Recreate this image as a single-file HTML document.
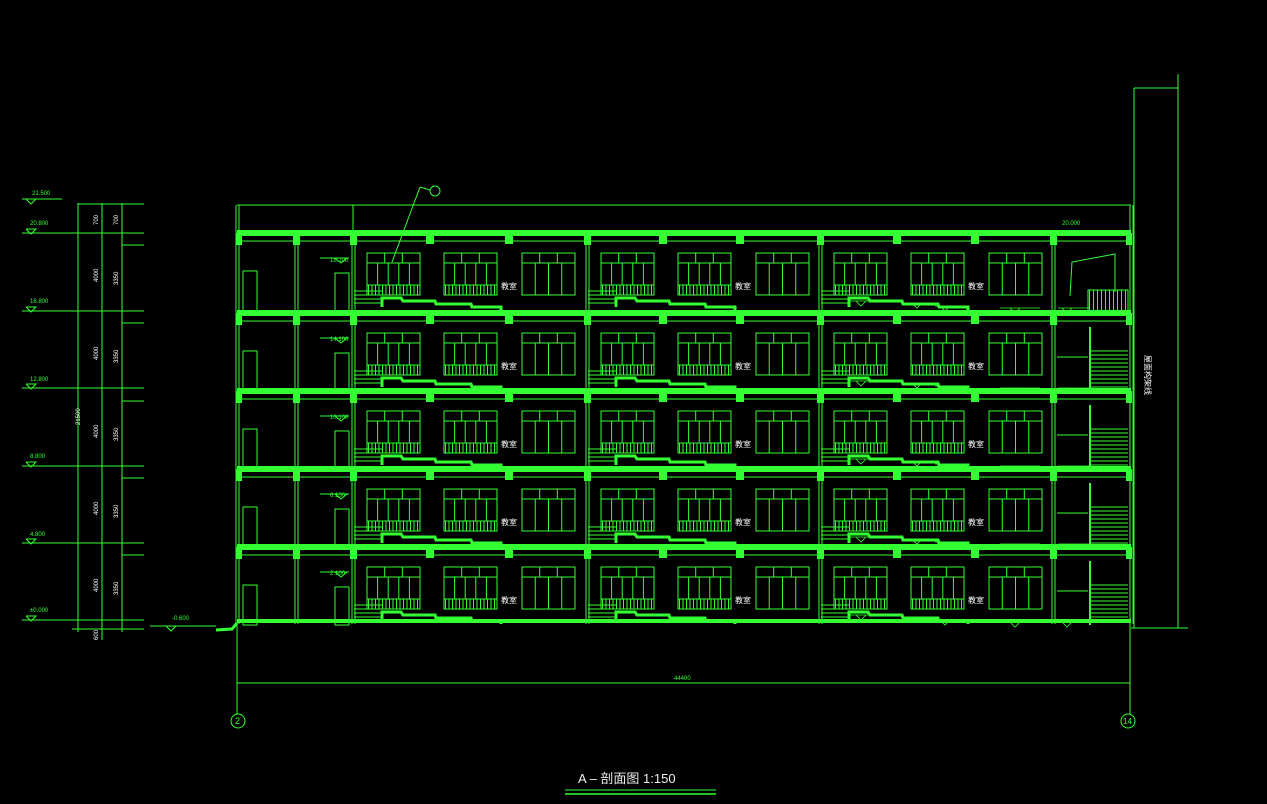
<!DOCTYPE html>
<html><head><meta charset="utf-8"><style>
html,body{margin:0;padding:0;background:#000;width:1267px;height:804px;overflow:hidden}
svg{display:block}
text{font-family:"Liberation Sans","Noto Sans CJK SC",sans-serif}
</style></head><body>
<svg width="1267" height="804" viewBox="0 0 1267 804" xmlns="http://www.w3.org/2000/svg">
<defs>
<g id="wa" stroke="#33ff33" fill="none">
<rect x="0" y="0" width="53" height="42"/>
<line x1="0" y1="10" x2="53" y2="10"/>
<line x1="17.7" y1="0" x2="17.7" y2="10"/><line x1="35.3" y1="0" x2="35.3" y2="10"/>
<line x1="10.6" y1="10" x2="10.6" y2="32"/><line x1="21.2" y1="10" x2="21.2" y2="32"/><line x1="31.8" y1="10" x2="31.8" y2="32"/><line x1="42.4" y1="10" x2="42.4" y2="32"/>
<line x1="0" y1="32" x2="53" y2="32"/>
<line x1="1" y1="37" x2="53" y2="37" stroke-width="10" stroke-dasharray="1 2.5"/>
</g>
<g id="wb" stroke="#33ff33" fill="none">
<rect x="0" y="0" width="53" height="42"/>
<line x1="0" y1="10" x2="53" y2="10"/>
<line x1="17.7" y1="0" x2="17.7" y2="10"/><line x1="35.3" y1="0" x2="35.3" y2="10"/>
<line x1="13.25" y1="10" x2="13.25" y2="42"/><line x1="26.5" y1="10" x2="26.5" y2="42"/><line x1="39.75" y1="10" x2="39.75" y2="42"/>
</g>
<g id="bay">
<use href="#wa" x="14" y="20"/><use href="#wa" x="91" y="20"/><use href="#wb" x="169" y="20"/>
<text x="148" y="56" fill="#fff" font-size="8">教室</text>
<g stroke="#33ff33" fill="none">
<line x1="1" y1="58" x2="29" y2="58"/><line x1="1" y1="62" x2="29" y2="62"/><line x1="1" y1="66" x2="29" y2="66"/><line x1="1" y1="70" x2="29" y2="70"/>
<polyline stroke-width="3" points="29,74 29,65 48,65 50,68 82,68 83,71 118,71 119,74 148,74 148,77"/>
</g>
</g>
<g id="fl">
<rect x="237" y="-3" width="894" height="6" fill="#33ff33"/>
<line x1="237" y1="8" x2="1131" y2="8" stroke="#33ff33"/>
<g fill="#33ff33">
<rect x="426" y="0" width="8" height="11"/><rect x="505" y="0" width="8" height="11"/><rect x="659" y="0" width="8" height="11"/>
<rect x="736" y="0" width="8" height="11"/><rect x="893" y="0" width="8" height="11"/><rect x="971" y="0" width="8" height="11"/>
<rect x="236" y="0" width="6" height="12"/><rect x="293" y="0" width="7" height="12"/><rect x="350" y="0" width="7" height="12"/>
<rect x="584" y="0" width="7" height="12"/><rect x="817" y="0" width="7" height="12"/><rect x="1050" y="0" width="7" height="12"/><rect x="1126" y="0" width="6" height="12"/>
</g>
<g stroke="#33ff33" fill="none">
<rect x="243" y="38" width="14" height="40"/><rect x="335" y="40" width="14" height="38"/>
<line x1="320" y1="25" x2="349" y2="25"/><polyline points="335,25 341,30 347,25"/>
</g>
<use href="#bay" x="353"/><use href="#bay" x="587"/><use href="#bay" x="820"/>
<g stroke="#33ff33" fill="none" stroke-width="0.8">
<line x1="850" y1="68" x2="880" y2="68"/><polyline points="856,68 861,73 866,68"/>
<line x1="905" y1="70" x2="935" y2="70"/><polyline points="912,70 917,75 922,70"/>
<line x1="935" y1="73" x2="965" y2="73"/><polyline points="940,73 945,78 950,73"/>
<line x1="1000" y1="75" x2="1040" y2="75"/><polyline points="1010,75 1015,80 1020,75"/>
<line x1="1058" y1="75" x2="1090" y2="75"/><polyline points="1062,75 1067,80 1072,75"/>
</g>
</g>
<g id="st" stroke="#33ff33" fill="none">
<line x1="1090" y1="14" x2="1090" y2="78" stroke-width="2"/>
<line x1="1090" y1="38" x2="1128" y2="38"/><line x1="1090" y1="42" x2="1128" y2="42"/><line x1="1090" y1="46" x2="1128" y2="46"/>
<line x1="1090" y1="50" x2="1128" y2="50"/><line x1="1090" y1="54" x2="1128" y2="54"/><line x1="1090" y1="58" x2="1128" y2="58"/>
<line x1="1090" y1="62" x2="1128" y2="62"/><line x1="1090" y1="66" x2="1128" y2="66"/><line x1="1090" y1="70" x2="1128" y2="70"/>
<line x1="1090" y1="74" x2="1128" y2="74"/><line x1="1057" y1="44" x2="1088" y2="44"/>
</g>
</defs>

<g stroke="#33ff33" fill="none">
<!-- left dims -->
<line x1="22" y1="199" x2="62" y2="199"/><line x1="22" y1="233" x2="144" y2="233"/><line x1="22" y1="311" x2="144" y2="311"/>
<line x1="22" y1="388" x2="144" y2="388"/><line x1="22" y1="466" x2="144" y2="466"/><line x1="22" y1="543" x2="144" y2="543"/>
<line x1="22" y1="620" x2="144" y2="620"/><line x1="78" y1="204" x2="144" y2="204"/>
<polyline points="26,199 36,199 31,204 26,199"/><polyline points="26,229 36,229 31,234 26,229"/>
<polyline points="26,307 36,307 31,312 26,307"/><polyline points="26,384 36,384 31,389 26,384"/>
<polyline points="26,462 36,462 31,467 26,462"/><polyline points="26,539 36,539 31,544 26,539"/>
<polyline points="26,616 36,616 31,621 26,616"/>
<line x1="78" y1="203" x2="78" y2="632"/><line x1="102" y1="203" x2="102" y2="640"/><line x1="122" y1="203" x2="122" y2="632"/>
<line x1="72" y1="629" x2="144" y2="629"/>
<line x1="122" y1="245" x2="144" y2="245"/><line x1="122" y1="323" x2="144" y2="323"/><line x1="122" y1="401" x2="144" y2="401"/>
<line x1="122" y1="478" x2="144" y2="478"/><line x1="122" y1="555" x2="144" y2="555"/>
<!-- parapet -->
<line x1="237" y1="205" x2="1131" y2="205"/><line x1="353" y1="205" x2="353" y2="238"/>
<!-- columns -->
<line x1="236" y1="205" x2="236" y2="624"/><line x1="239" y1="205" x2="239" y2="624"/>
<line x1="295" y1="236" x2="295" y2="624"/><line x1="298" y1="236" x2="298" y2="624"/>
<line x1="352" y1="236" x2="352" y2="624"/><line x1="355" y1="236" x2="355" y2="624"/>
<line x1="586" y1="236" x2="586" y2="624"/><line x1="589" y1="236" x2="589" y2="624"/>
<line x1="819" y1="236" x2="819" y2="624"/><line x1="822" y1="236" x2="822" y2="624"/>
<line x1="1052" y1="236" x2="1052" y2="624"/><line x1="1055" y1="236" x2="1055" y2="624"/>
<line x1="1130" y1="205" x2="1130" y2="624"/><line x1="1133" y1="205" x2="1133" y2="624"/>
<!-- ground -->
<line x1="150" y1="626" x2="216" y2="626"/><polyline points="166,626 171,631 176,626"/>
<polyline points="216,630 232,629 237,623" stroke-width="3"/>
<!-- right tall -->
<line x1="1134" y1="88" x2="1134" y2="628"/><line x1="1178" y1="74" x2="1178" y2="628"/>
<line x1="1134" y1="88" x2="1178" y2="88"/><line x1="1131" y1="628" x2="1188" y2="628"/>
<!-- bottom dims -->
<line x1="237" y1="623" x2="237" y2="714"/><line x1="1130" y1="623" x2="1130" y2="714"/>
<line x1="237" y1="683" x2="1130" y2="683"/>
<circle cx="238" cy="721" r="7"/><circle cx="1128" cy="721" r="7"/>
<!-- leader -->
<line x1="392" y1="262" x2="420" y2="187"/><line x1="420" y1="187" x2="430" y2="190"/><circle cx="435" cy="191" r="5"/>
<!-- top right floor stair -->
<polyline points="1070,296 1072,262 1115,254 1115,292"/>
<rect x="1088" y="290" width="40" height="21"/>
<line x1="1089" y1="300" x2="1128" y2="300" stroke-width="20" stroke-dasharray="1 3"/>
</g>
<rect x="237" y="619" width="894" height="4" fill="#33ff33"/>

<use href="#fl" y="233"/><use href="#fl" y="313"/><use href="#fl" y="391"/><use href="#fl" y="469"/><use href="#fl" y="547"/>
<use href="#st" y="313"/><use href="#st" y="391"/><use href="#st" y="469"/><use href="#st" y="547"/>

<g fill="#33ff33" font-size="6">
<text x="32" y="195">21.500</text><text x="30" y="225">20.800</text><text x="30" y="303">16.800</text>
<text x="30" y="381">12.800</text><text x="30" y="458">8.800</text><text x="30" y="536">4.800</text>
<text x="30" y="612">±0.000</text><text x="172" y="620">-0.600</text>
<text x="1062" y="225">20.000</text>
<text x="330" y="262">18.100</text><text x="330" y="341">14.100</text><text x="330" y="419">10.100</text><text x="330" y="497">6.100</text><text x="330" y="575">2.100</text>
<text x="674" y="680">44400</text>
<text x="235" y="724" font-size="9">2</text><text x="1123" y="724" font-size="8">14</text>
</g>
<g fill="#fff" font-size="6">
<text x="80" y="425" transform="rotate(-90 80 425)">21500</text>
<text x="98" y="225" transform="rotate(-90 98 225)">700</text><text x="118" y="225" transform="rotate(-90 118 225)">700</text>
<text x="98" y="282" transform="rotate(-90 98 282)">4000</text><text x="98" y="360" transform="rotate(-90 98 360)">4000</text>
<text x="98" y="438" transform="rotate(-90 98 438)">4000</text><text x="98" y="515" transform="rotate(-90 98 515)">4000</text>
<text x="98" y="592" transform="rotate(-90 98 592)">4000</text>
<text x="118" y="285" transform="rotate(-90 118 285)">3350</text><text x="118" y="363" transform="rotate(-90 118 363)">3350</text>
<text x="118" y="441" transform="rotate(-90 118 441)">3350</text><text x="118" y="518" transform="rotate(-90 118 518)">3350</text>
<text x="118" y="595" transform="rotate(-90 118 595)">3350</text>
<text x="98" y="640" transform="rotate(-90 98 640)">600</text>
<text x="1145" y="355" font-size="8" transform="rotate(90 1145 355)">屋面构架线</text>
</g>
<text x="578" y="783" fill="#eee" font-size="13">A –  剖面图     1:150</text>
<line x1="565" y1="790" x2="716" y2="790" stroke="#33ff33"/>
<line x1="565" y1="794" x2="716" y2="794" stroke="#33ff33" stroke-width="1.5"/>
</svg>
</body></html>
